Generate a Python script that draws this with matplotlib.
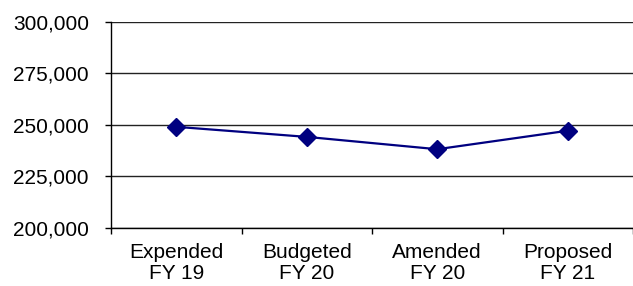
import matplotlib.pyplot as plt
from matplotlib.ticker import FuncFormatter, FixedLocator

plt.rcParams['font.family'] = ['Liberation Sans', 'DejaVu Sans']

# 各年度数据
categories = ['Expended\nFY 19', 'Budgeted\nFY 20', 'Amended\nFY 20', 'Proposed\nFY 21']
values = [249000, 244100, 238100, 247100]
y_ticks = [200000, 225000, 250000, 275000, 300000]

fig = plt.figure(figsize=(6.33, 2.86), dpi=100)
ax = fig.add_axes([0.1754, 0.2045, 0.8246, 0.7185])

x = list(range(len(categories)))
ax.plot(x, values, color='#000080', linewidth=1.6, marker='D', markersize=9,
        zorder=5, clip_on=False)

ax.set_xlim(-0.5, len(categories) - 0.5)
ax.set_ylim(200000, 300000)
ax.set_yticks(y_ticks)
ax.yaxis.set_major_formatter(FuncFormatter(lambda v, p: f'{v:,.0f}'))
ax.grid(axis='y', color='#222222', linewidth=1.0)
ax.set_axisbelow(True)

# 类别刻度在分界处，标签放在中间
ax.xaxis.set_major_locator(FixedLocator([i - 0.5 for i in range(len(categories) + 1)]))
ax.xaxis.set_minor_locator(FixedLocator(x))
ax.set_xticklabels([])
ax.set_xticklabels(categories, minor=True, fontsize=15, linespacing=1.12)
ax.tick_params(axis='x', which='major', length=4, width=1, direction='out')
ax.tick_params(axis='x', which='minor', length=0, pad=11.5)
ax.tick_params(axis='y', length=4, width=1, pad=12, labelsize=15)

for s in ['top', 'right']:
    ax.spines[s].set_visible(False)
for s in ['left', 'bottom']:
    ax.spines[s].set_color('black')
    ax.spines[s].set_linewidth(1.0)

fig.savefig('out.png', dpi=100)
